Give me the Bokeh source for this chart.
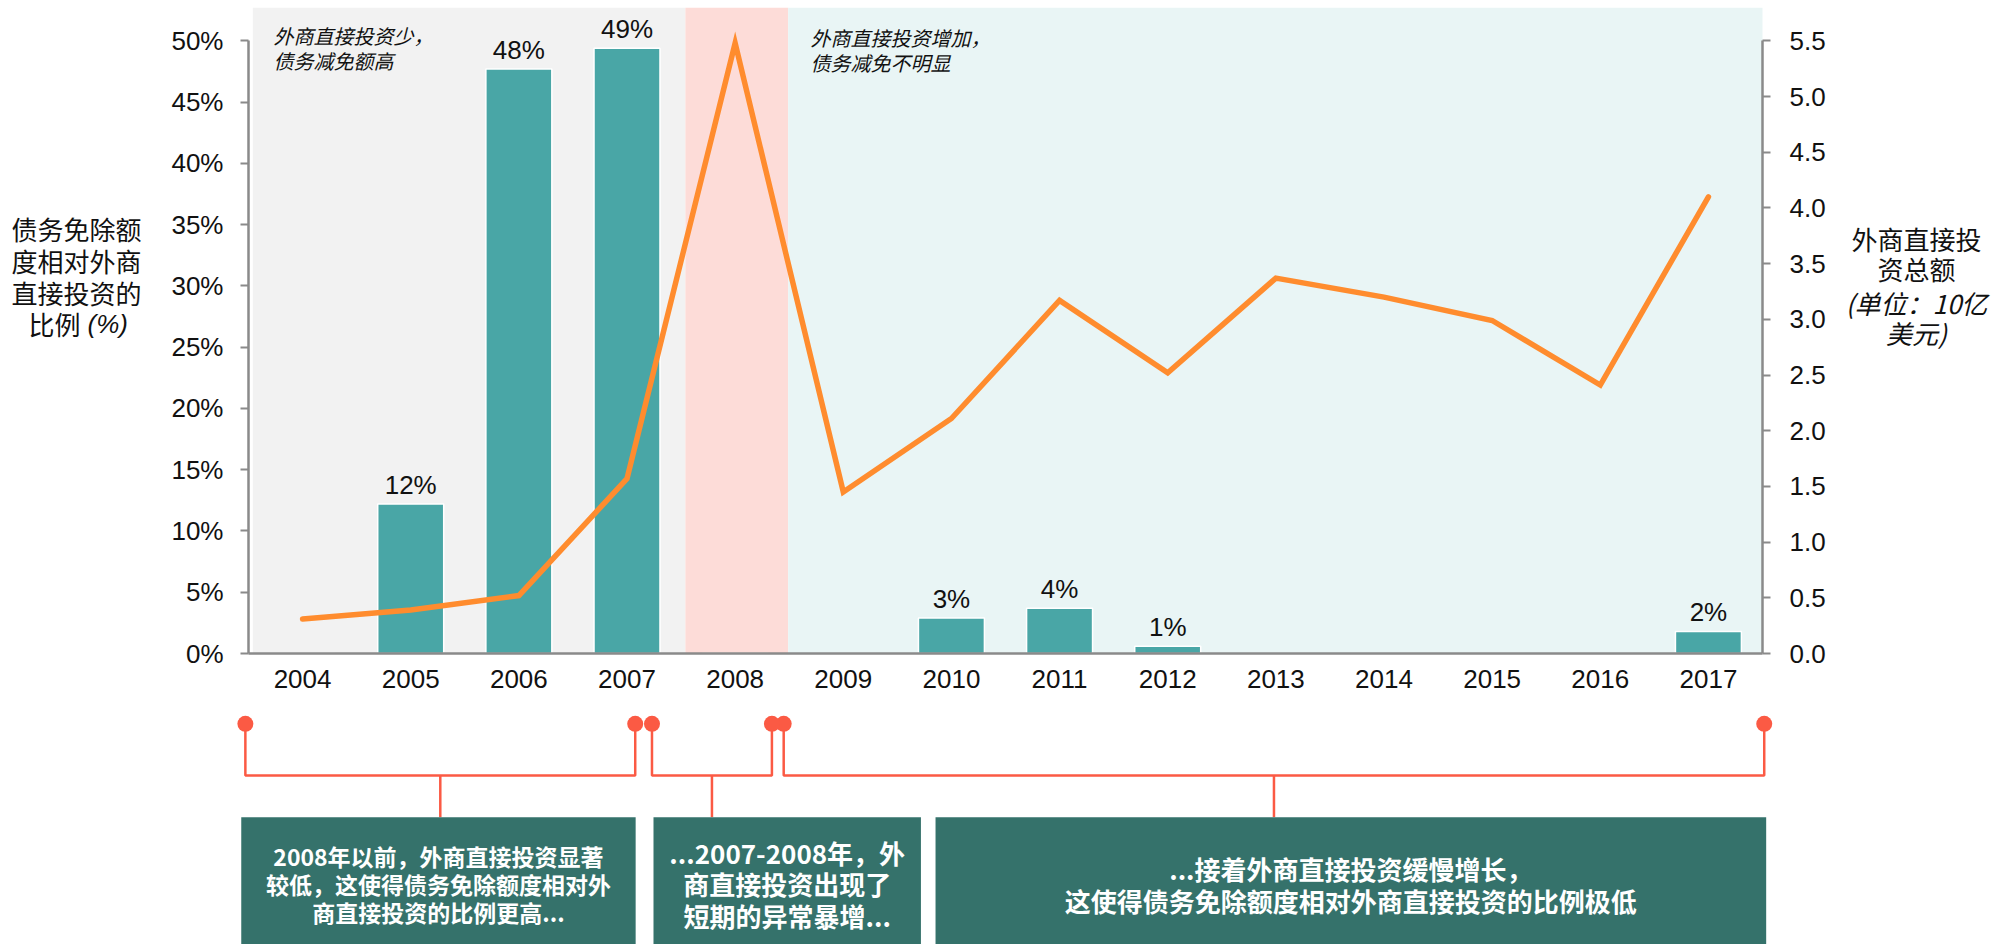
from bokeh.plotting import figure
from bokeh.models import Range1d, LinearAxis, FixedTicker, PrintfTickFormatter, Label, ColumnDataSource
from bokeh.layouts import row
from bokeh.embed import file_html
from bokeh.resources import INLINE
from bokeh.core.properties import value

# ---------------- data ----------------
years = [2004, 2005, 2006, 2007, 2008, 2009, 2010, 2011, 2012, 2013, 2014, 2015, 2016, 2017]
relief_pct = [0, 12.2, 47.7, 49.4, 0, 0, 2.9, 3.7, 0.6, 0, 0, 0, 0, 1.8]
fdi_total = [0.31, 0.39, 0.52, 1.57, 5.48, 1.45, 2.11, 3.17, 2.52, 3.37, 3.20, 2.99, 2.41, 4.10]
pct_ticks = [0, 5, 10, 15, 20, 25, 30, 35, 40, 45, 50]
fdi_ticks = [0.0, 0.5, 1.0, 1.5, 2.0, 2.5, 3.0, 3.5, 4.0, 4.5, 5.0, 5.5]

phase_starts = [2003.54, 2007.54, 2008.49]
phase_ends = [2007.54, 2008.49, 2017.53]
phase_colors = ["#f2f2f2", "#fddcd8", "#e9f5f5"]

left_title_lines = ["债务免除额", "度相对外商", "直接投资的"]
left_title_tail = ["比例", "(%)"]
right_title_lines = ["外商直接投", "资总额"]
right_unit_lines = ["(单位：10亿", "美元)"]
note_low_lines = ["外商直接投资少，", "债务减免额高"]
note_high_lines = ["外商直接投资增加，", "债务减免不明显"]

# timeline annotations (bracket ends and box extents in year units)
bracket_left = [2003.471, 2007.231, 2008.449]
bracket_right = [2007.076, 2008.340, 2017.516]
box_left = [2003.433, 2007.245, 2009.853]
box_right = [2007.080, 2009.718, 2017.534]
box_lines = [
    ["2008年以前，外商直接投资显著", "较低，这使得债务免除额度相对外", "商直接投资的比例更高..."],
    ["...2007-2008年，外", "商直接投资出现了", "短期的异常暴增..."],
    ["...接着外商直接投资缓慢增长，", "这使得债务免除额度相对外商直接投资的比例极低"],
]

# ---------------- styling / layout constants (page pixels) ----------------
BAR = "#49a6a6"
LINE = "#ff8c2e"
AXIS = "#8a8a8a"
DOT = "#fb5a44"
BOX = "#35726b"
TXT = "#111111"
NUM_FONT = "Liberation Sans"
CJK_FONT = "Noto Sans CJK SC"

PAGE_W = 1999
LEFT_W = 158          # left title strip
RIGHT_X = 1840        # right title strip starts here
FRAME_L, FRAME_R = 248, 1762
FRAME_T, FRAME_B = 7, 653
TOP_H = 700
Y_END = (FRAME_B - FRAME_T) / 612.6 * 50
FDI_END = Y_END * 0.11

left_line_y = [228, 260, 292]
left_tail_y = 323
right_line_y = [238, 268]
right_unit_y = [302, 332]
box_line_y = [[855, 883.3, 911.7], [851.7, 883.3, 915], [868.3, 900]]
box_font = ["23px", "26px", "26px"]
DOT_Y, BAR_Y, BOX_TOP = 723.3, 775, 816.7


def strip_fig(width, x0):
    f = figure(width=width, height=TOP_H, x_range=Range1d(x0, x0 + width),
               y_range=Range1d(FRAME_B, FRAME_T), toolbar_location=None, output_backend="svg",
               title_location=None, x_axis_location=None, y_axis_location=None,
               min_border_left=0, min_border_right=0, min_border_top=FRAME_T,
               min_border_bottom=TOP_H - FRAME_B)
    f.outline_line_color = None
    f.grid.visible = False
    return f


# ---------------- main chart ----------------
p = figure(width=RIGHT_X - LEFT_W, height=TOP_H, x_range=Range1d(2003.5, 2017.5),
           y_range=Range1d(0, Y_END), toolbar_location=None, output_backend="svg",
           title_location=None, min_border_left=FRAME_L - LEFT_W,
           min_border_right=RIGHT_X - FRAME_R, min_border_top=FRAME_T,
           min_border_bottom=TOP_H - FRAME_B)
p.outline_line_color = None
p.grid.visible = False
p.extra_y_ranges = {"fdi": Range1d(0, FDI_END)}

p.quad(left=phase_starts, right=phase_ends, bottom=0, top=Y_END, fill_color=phase_colors, line_color=None)

src = ColumnDataSource(dict(x=years, top=relief_pct))
p.vbar(x="x", top="top", width=0.61, source=src, fill_color=BAR, line_color="white", line_width=1.5)

p.line(years, fdi_total, y_range_name="fdi", line_color=LINE, line_width=5.5,
       line_join="miter", line_cap="round")

lab_x = [x for x, v in zip(years, relief_pct) if v > 0]
lab_y = [v for v in relief_pct if v > 0]
lab_t = [f"{round(v)}%" for v in relief_pct if v > 0]
p.text(x=lab_x, y=lab_y, text=lab_t, text_align="center", text_baseline="alphabetic",
       y_offset=-19, text_font=value(NUM_FONT), text_font_size="26px", text_color=TXT)

p.xaxis.ticker = FixedTicker(ticks=years)
p.xaxis.major_tick_in = 0
p.xaxis.major_tick_out = 0
p.xaxis.minor_tick_line_color = None
p.xaxis.axis_line_color = AXIS
p.xaxis.axis_line_width = 2.5
p.xaxis.major_label_text_font = NUM_FONT
p.xaxis.major_label_text_font_size = "26px"
p.xaxis.major_label_text_color = TXT
p.xaxis.major_label_standoff = 16

yl = p.yaxis[0]
yl.ticker = FixedTicker(ticks=pct_ticks)
yl.formatter = PrintfTickFormatter(format="%d%%")
yl.bounds = (0, 50)

yr = LinearAxis(y_range_name="fdi", ticker=FixedTicker(ticks=fdi_ticks),
                formatter=PrintfTickFormatter(format="%.1f"))
yr.bounds = (0, 5.5)
p.add_layout(yr, "right")

for ax in (yl, yr):
    ax.major_tick_in = 0
    ax.major_tick_out = 8
    ax.minor_tick_line_color = None
    ax.axis_line_color = AXIS
    ax.axis_line_width = 2.5
    ax.major_tick_line_color = AXIS
    ax.major_tick_line_width = 2
    ax.major_label_text_font = NUM_FONT
    ax.major_label_text_font_size = "26px"
    ax.major_label_text_color = TXT
yl.major_label_standoff = 17
yr.major_label_standoff = 19

# phase notes (screen units relative to the frame: x from left, y up from bottom)
for lines, nx, ny in ((note_low_lines, 273, [35, 60]), (note_high_lines, 810, [36.7, 61.7])):
    for t, yy in zip(lines, ny):
        p.add_layout(Label(x=nx - FRAME_L, y=FRAME_B - yy, x_units="screen", y_units="screen",
                           text=t, text_align="left", text_baseline="middle", text_font=CJK_FONT,
                           text_font_style="italic", text_font_size="20px", text_color=TXT))

# ---------------- side title strips ----------------
lf = strip_fig(LEFT_W, 0)
lf.text(x=[76] * 3, y=left_line_y, text=left_title_lines, text_align="center", text_baseline="middle",
        text_font=value(CJK_FONT), text_font_size="26px", text_color=TXT)
lf.text(x=[80], y=[left_tail_y], text=[left_title_tail[0]], text_align="right", text_baseline="middle",
        text_font=value(CJK_FONT), text_font_size="26px", text_color=TXT)
lf.text(x=[87], y=[left_tail_y], text=[left_title_tail[1]], text_align="left", text_baseline="middle",
        text_font=value(NUM_FONT), text_font_style="italic", text_font_size="26px", text_color=TXT)

rf = strip_fig(PAGE_W - RIGHT_X, RIGHT_X)
rf.text(x=[1916] * 2, y=right_line_y, text=right_title_lines, text_align="center", text_baseline="middle",
        text_font=value(CJK_FONT), text_font_size="26px", text_color=TXT)
rf.text(x=[1916] * 2, y=right_unit_y, text=right_unit_lines, text_align="center", text_baseline="middle",
        text_font=value(CJK_FONT), text_font_style="italic", text_font_size="26px", text_color=TXT)

# ---------------- bottom timeline ----------------
px_per_year = (FRAME_R - FRAME_L) / 14.0
x0 = 2003.5 - FRAME_L / px_per_year
x1 = 2017.5 + (PAGE_W - FRAME_R) / px_per_year
q = figure(width=PAGE_W, height=944 - TOP_H, x_range=Range1d(x0, x1), y_range=Range1d(944, TOP_H),
           toolbar_location=None, output_backend="svg", title_location=None,
           x_axis_location=None, y_axis_location=None, min_border=0)
q.outline_line_color = None
q.grid.visible = False

xs, ys = [], []
for l, r in zip(bracket_left, bracket_right):
    m = (l + r) / 2
    xs.append([l, l, r, r]); ys.append([DOT_Y, BAR_Y, BAR_Y, DOT_Y])
    xs.append([m, m]); ys.append([BAR_Y, BOX_TOP])
q.multi_line(xs, ys, line_color=DOT, line_width=2.5)
q.scatter(bracket_left + bracket_right, [DOT_Y] * 6, size=16, marker="circle", fill_color=DOT, line_color=None)

q.quad(left=box_left, right=box_right, top=BOX_TOP, bottom=960, fill_color=BOX, line_color=None)
for l, r, lines, ly, fs in zip(box_left, box_right, box_lines, box_line_y, box_font):
    q.text(x=[(l + r) / 2] * len(lines), y=ly, text=lines, text_align="center", text_baseline="middle",
           text_font=value(CJK_FONT), text_font_style="bold", text_font_size=fs, text_color="white")

top = row(lf, p, rf, spacing=0)
open("out.html", "w").write(file_html([top, q], INLINE))
